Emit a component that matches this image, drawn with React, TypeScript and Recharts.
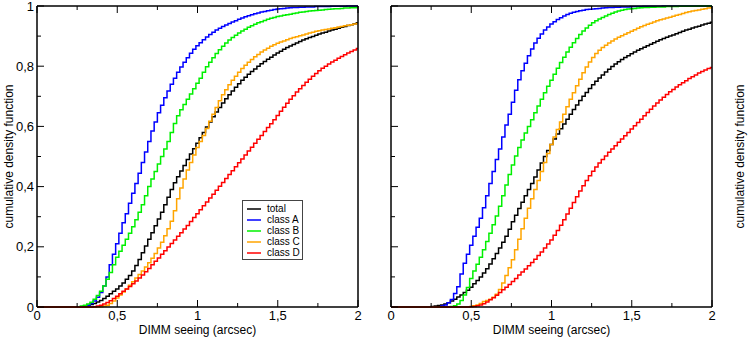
import React from 'react';
import { LineChart, Line, XAxis, YAxis, Legend, Label } from 'recharts';

// ---------- data (cumulative distributions, bins of 0.02 arcsec) ----------
const BIN = 0.02;
const X_MAX = 2;
const X_TICKS = [0, 0.25, 0.5, 0.75, 1, 1.25, 1.5, 1.75, 2];
const Y_TICKS = [0, 0.1, 0.2, 0.3, 0.4, 0.5, 0.6, 0.7, 0.8, 0.9, 1];

const SERIES = [
  { key: 'total', name: 'total', color: '#000000' },
  { key: 'A', name: 'class A', color: '#0000ff' },
  { key: 'B', name: 'class B', color: '#00f000' },
  { key: 'C', name: 'class C', color: '#ffa500' },
  { key: 'D', name: 'class D', color: '#ff0000' },
];

// left panel
const leftTotalStart = 0.28;
const leftTotal = [
  0.001, 0.003, 0.005, 0.008, 0.012, 0.017, 0.022, 0.028, 0.036, 0.044,
  0.052, 0.06, 0.07, 0.08, 0.092, 0.105, 0.12, 0.138, 0.158, 0.18,
  0.203, 0.225, 0.247, 0.27, 0.292, 0.315, 0.34, 0.365, 0.39, 0.413,
  0.433, 0.452, 0.47, 0.49, 0.508, 0.526, 0.544, 0.562, 0.58, 0.598,
  0.615, 0.632, 0.648, 0.663, 0.678, 0.692, 0.705, 0.718, 0.73, 0.742,
  0.753, 0.763, 0.773, 0.782, 0.791, 0.8, 0.808, 0.816, 0.823, 0.83,
  0.837, 0.844, 0.85, 0.856, 0.862, 0.867, 0.872, 0.877, 0.882, 0.887,
  0.891, 0.895, 0.899, 0.903, 0.907, 0.91, 0.913, 0.917, 0.92, 0.923,
  0.926, 0.929, 0.932, 0.935, 0.938, 0.941, 0.944,
];
const leftAStart = 0.28;
const leftA = [
  0.001, 0.003, 0.006, 0.012, 0.02, 0.032, 0.048, 0.07, 0.1, 0.14,
  0.175, 0.21, 0.245, 0.28, 0.31, 0.345, 0.378, 0.41, 0.444, 0.48,
  0.515, 0.55, 0.585, 0.615, 0.645, 0.67, 0.695, 0.718, 0.74, 0.76,
  0.78, 0.797, 0.813, 0.828, 0.843, 0.856, 0.868, 0.878, 0.888, 0.897,
  0.905, 0.913, 0.92, 0.926, 0.932, 0.937, 0.942, 0.947, 0.951, 0.956,
  0.96, 0.964, 0.968, 0.971, 0.974, 0.977, 0.98, 0.982, 0.984, 0.986,
  0.988, 0.99, 0.991, 0.992, 0.993, 0.994, 0.995, 0.995, 0.996, 0.996,
  0.997, 0.997, 0.997, 0.998, 0.998, 0.998, 0.998, 0.998, 0.999, 0.999,
  0.999, 0.999, 0.999, 1, 1, 1, 1,
];
const leftBStart = 0.26;
const leftB = [
  0.001, 0.003, 0.006, 0.01, 0.016, 0.026, 0.038, 0.052, 0.07, 0.092,
  0.115, 0.14, 0.165, 0.185, 0.205, 0.225, 0.245, 0.267, 0.29, 0.315,
  0.34, 0.37, 0.4, 0.425, 0.45, 0.475, 0.5, 0.525, 0.55, 0.58,
  0.61, 0.635, 0.655, 0.673, 0.69, 0.708, 0.725, 0.743, 0.76, 0.78,
  0.798, 0.813, 0.828, 0.842, 0.855, 0.866, 0.877, 0.887, 0.895, 0.903,
  0.91, 0.917, 0.923, 0.929, 0.934, 0.939, 0.944, 0.948, 0.952, 0.956,
  0.959, 0.962, 0.965, 0.967, 0.969, 0.971, 0.973, 0.975, 0.977, 0.979,
  0.98, 0.982, 0.983, 0.984, 0.985, 0.986, 0.987, 0.988, 0.989, 0.99,
  0.991, 0.991, 0.992, 0.993, 0.993, 0.994, 0.994, 0.995,
];
const leftCStart = 0.4;
const leftC = [
  0.001, 0.003, 0.006, 0.012, 0.02, 0.03, 0.04, 0.05, 0.06, 0.072,
  0.084, 0.096, 0.108, 0.12, 0.133, 0.147, 0.162, 0.178, 0.196, 0.215,
  0.237, 0.26, 0.285, 0.32, 0.36, 0.395, 0.425, 0.455, 0.48, 0.505,
  0.53, 0.55, 0.57, 0.593, 0.617, 0.64, 0.663, 0.685, 0.705, 0.722,
  0.738, 0.753, 0.767, 0.78, 0.792, 0.803, 0.813, 0.822, 0.831, 0.839,
  0.847, 0.854, 0.86, 0.866, 0.871, 0.876, 0.88, 0.884, 0.888, 0.892,
  0.895, 0.898, 0.901, 0.904, 0.907, 0.91, 0.913, 0.916, 0.918, 0.92,
  0.922, 0.924, 0.926, 0.928, 0.93, 0.932, 0.934, 0.936, 0.938, 0.94,
  0.942,
];
const leftDStart = 0.36;
const leftD = [
  0.001, 0.003, 0.006, 0.01, 0.015, 0.021, 0.028, 0.036, 0.044, 0.052,
  0.06, 0.068, 0.077, 0.086, 0.096, 0.106, 0.117, 0.128, 0.14, 0.152,
  0.163, 0.175, 0.187, 0.199, 0.211, 0.223, 0.235, 0.247, 0.259, 0.271,
  0.284, 0.297, 0.31, 0.323, 0.336, 0.349, 0.362, 0.375, 0.388, 0.401,
  0.414, 0.427, 0.44, 0.453, 0.466, 0.479, 0.492, 0.505, 0.518, 0.531,
  0.544, 0.557, 0.57, 0.583, 0.596, 0.609, 0.622, 0.636, 0.65, 0.664,
  0.677, 0.69, 0.702, 0.714, 0.725, 0.736, 0.747, 0.757, 0.767, 0.776,
  0.785, 0.793, 0.8, 0.807, 0.814, 0.82, 0.826, 0.832, 0.838, 0.844,
  0.849, 0.854, 0.859,
];

// right panel
const rightTotalStart = 0.24;
const rightTotal = [
  0.001, 0.002, 0.003, 0.005, 0.007, 0.01, 0.014, 0.02, 0.026, 0.033,
  0.04, 0.048, 0.056, 0.066, 0.077, 0.088, 0.1, 0.113, 0.127, 0.143,
  0.16, 0.178, 0.196, 0.215, 0.235, 0.258, 0.283, 0.305, 0.327, 0.348,
  0.37, 0.39, 0.41, 0.432, 0.455, 0.478, 0.5, 0.52, 0.54, 0.558,
  0.575, 0.592, 0.608, 0.624, 0.64, 0.656, 0.671, 0.686, 0.7, 0.713,
  0.726, 0.738, 0.75, 0.761, 0.771, 0.781, 0.79, 0.799, 0.807, 0.815,
  0.822, 0.829, 0.835, 0.841, 0.847, 0.853, 0.858, 0.863, 0.868, 0.873,
  0.878, 0.883, 0.888, 0.892, 0.896, 0.9, 0.904, 0.908, 0.912, 0.916,
  0.92, 0.923, 0.927, 0.93, 0.933, 0.937, 0.94, 0.943, 0.946,
];
const rightAStart = 0.3;
const rightA = [
  0.001, 0.003, 0.007, 0.014, 0.025, 0.045, 0.067, 0.11, 0.145, 0.175,
  0.205, 0.235, 0.265, 0.295, 0.33, 0.37, 0.41, 0.45, 0.49, 0.525,
  0.565, 0.605, 0.64, 0.68, 0.72, 0.755, 0.785, 0.81, 0.835, 0.857,
  0.877, 0.893, 0.907, 0.92, 0.93, 0.94, 0.948, 0.955, 0.961, 0.967,
  0.972, 0.976, 0.979, 0.982, 0.984, 0.986, 0.988, 0.989, 0.99, 0.991,
  0.992, 0.993, 0.994, 0.995, 0.995, 0.996, 0.996, 0.997, 0.997, 0.997,
  0.998, 0.998, 0.998, 0.998, 0.999, 0.999, 0.999, 0.999, 0.999, 0.999,
  1, 1, 1, 1, 1, 1, 1, 1, 1, 1,
  1, 1, 1, 1, 1, 1,
];
const rightBStart = 0.36;
const rightB = [
  0.001, 0.002, 0.004, 0.01, 0.022, 0.04, 0.065, 0.095, 0.12, 0.142,
  0.165, 0.19, 0.218, 0.245, 0.273, 0.302, 0.335, 0.37, 0.405, 0.44,
  0.472, 0.502, 0.53, 0.555, 0.578, 0.6, 0.622, 0.645, 0.668, 0.69,
  0.712, 0.733, 0.753, 0.773, 0.793, 0.812, 0.83, 0.847, 0.863, 0.878,
  0.892, 0.905, 0.917, 0.927, 0.936, 0.944, 0.951, 0.957, 0.962, 0.967,
  0.972, 0.976, 0.98, 0.983, 0.986, 0.988, 0.99, 0.991, 0.992, 0.993,
  0.994, 0.995, 0.995, 0.996, 0.996, 0.997, 0.997, 0.997, 0.998, 0.998,
  0.998, 0.998, 0.999, 0.999, 0.999, 0.999, 0.999, 0.999, 1, 1,
  1, 1, 1,
];
const rightCStart = 0.48;
const rightC = [
  0.001, 0.002, 0.004, 0.007, 0.012, 0.018, 0.022, 0.026, 0.032, 0.042,
  0.058, 0.08, 0.105, 0.13, 0.157, 0.19, 0.225, 0.26, 0.295, 0.328,
  0.36, 0.39, 0.42, 0.45, 0.48, 0.51, 0.54, 0.565, 0.59, 0.615,
  0.64, 0.665, 0.69, 0.712, 0.735, 0.757, 0.778, 0.797, 0.814, 0.829,
  0.842, 0.853, 0.862, 0.87, 0.877, 0.884, 0.89, 0.896, 0.901, 0.906,
  0.911, 0.916, 0.921, 0.926, 0.931, 0.935, 0.939, 0.943, 0.947, 0.951,
  0.954, 0.957, 0.96, 0.963, 0.966, 0.969, 0.972, 0.975, 0.978, 0.981,
  0.983, 0.985, 0.987, 0.989, 0.991, 0.993, 0.995,
];
const rightDStart = 0.5;
const rightD = [
  0.001, 0.002, 0.004, 0.007, 0.011, 0.017, 0.024, 0.031, 0.039, 0.048,
  0.057, 0.066, 0.075, 0.085, 0.095, 0.106, 0.116, 0.126, 0.137, 0.148,
  0.159, 0.171, 0.183, 0.196, 0.209, 0.223, 0.238, 0.254, 0.272, 0.29,
  0.309, 0.328, 0.347, 0.366, 0.385, 0.403, 0.42, 0.436, 0.451, 0.465,
  0.478, 0.49, 0.502, 0.514, 0.525, 0.536, 0.547, 0.558, 0.569, 0.58,
  0.591, 0.602, 0.613, 0.624, 0.635, 0.646, 0.657, 0.668, 0.678, 0.688,
  0.697, 0.706, 0.715, 0.723, 0.731, 0.738, 0.745, 0.752, 0.759, 0.765,
  0.771, 0.777, 0.782, 0.787, 0.792, 0.796,
];

const X_TITLE = 'DIMM seeing (arcsec)';
const Y_TITLE = 'cumulative density function';

// ---------- helpers ----------
type Series = { start: number; values: number[] };

function buildRows(series: Record<string, Series>) {
  const n = Math.round(X_MAX / BIN);
  const rows: any[] = [];
  for (let i = 0; i <= n; i++) {
    const row: any = { x: Number((i * BIN).toFixed(2)) };
    for (const k of Object.keys(series)) {
      const s = series[k];
      const si = Math.round(s.start / BIN);
      row[k] = i < si ? 0 : s.values[i - si];
    }
    rows.push(row);
  }
  return rows;
}

const leftRows = buildRows({
  total: { start: leftTotalStart, values: leftTotal },
  A: { start: leftAStart, values: leftA },
  B: { start: leftBStart, values: leftB },
  C: { start: leftCStart, values: leftC },
  D: { start: leftDStart, values: leftD },
});
const rightRows = buildRows({
  total: { start: rightTotalStart, values: rightTotal },
  A: { start: rightAStart, values: rightA },
  B: { start: rightBStart, values: rightB },
  C: { start: rightCStart, values: rightC },
  D: { start: rightDStart, values: rightD },
});

const FONT = '"Liberation Sans", Arial, Helvetica, sans-serif';
const fmt = (v: number) => String(v).replace('.', ',');
const isMajor = (v: number, step: number) => Math.abs(v / step - Math.round(v / step)) < 1e-6;
const MAJOR = 7;
const MINOR = 4;

const BottomTick = (p: any) => {
  const v = p.payload.value;
  const major = isMajor(v, 0.5);
  return (
    <g>
      <line x1={p.x} y1={p.y} x2={p.x} y2={p.y - (major ? MAJOR : MINOR)} stroke="#000" strokeWidth={1} />
      {major && (
        <text x={p.x} y={p.y + 12.5} textAnchor="middle" fontSize={13} fontFamily={FONT} fill="#000">
          {fmt(v)}
        </text>
      )}
    </g>
  );
};
const TopTick = (p: any) => {
  const major = isMajor(p.payload.value, 0.5);
  return <line x1={p.x} y1={p.y} x2={p.x} y2={p.y + (major ? MAJOR : MINOR)} stroke="#000" strokeWidth={1} />;
};
const makeLeftTick = (withText: boolean) => (p: any) => {
  const v = p.payload.value;
  const major = isMajor(v, 0.2);
  return (
    <g>
      <line x1={p.x} y1={p.y} x2={p.x + (major ? MAJOR : MINOR)} y2={p.y} stroke="#000" strokeWidth={1} />
      {withText && major && (
        <text x={p.x - 3} y={p.y + 4.5} textAnchor="end" fontSize={13} fontFamily={FONT} fill="#000">
          {fmt(v)}
        </text>
      )}
    </g>
  );
};
const makeRightTick = (withText: boolean) => (p: any) => {
  const v = p.payload.value;
  const major = isMajor(v, 0.2);
  return (
    <g>
      <line x1={p.x} y1={p.y} x2={p.x - (major ? MAJOR : MINOR)} y2={p.y} stroke="#000" strokeWidth={1} />
      {withText && major && (
        <text x={p.x + 3} y={p.y + 4.5} textAnchor="start" fontSize={13} fontFamily={FONT} fill="#000">
          {fmt(v)}
        </text>
      )}
    </g>
  );
};

const XTitle = (props: any) => {
  const vb = props.viewBox;
  return (
    <text x={vb.x + vb.width / 2} y={vb.y + 27} textAnchor="middle" fontSize={12} fontFamily={FONT} fill="#000">
      {X_TITLE}
    </text>
  );
};
const makeYTitle = (side: 'left' | 'right') => (props: any) => {
  const vb = props.viewBox;
  const cy = vb.y + vb.height / 2;
  const cx = side === 'left' ? vb.x + vb.width - 24 : vb.x + 32;
  return (
    <text x={cx} y={cy} transform={`rotate(-90 ${cx} ${cy})`} textAnchor="middle" fontSize={12} fontFamily={FONT} fill="#000">
      {Y_TITLE}
    </text>
  );
};

const LegendBox = () => (
  <div
    style={{
      boxSizing: 'border-box',
      width: 61,
      height: 60,
      border: '1px solid #444',
      background: '#fff',
      padding: '3px 0 0 4px',
      fontFamily: FONT,
      fontSize: 10,
      color: '#000',
    }}
  >
    {SERIES.map((s) => (
      <div key={s.key} style={{ height: 10.8, display: 'flex', alignItems: 'center', whiteSpace: 'nowrap' }}>
        <svg width={14} height={4} style={{ display: 'block' }}>
          <line x1={0} y1={2} x2={14} y2={2} stroke={s.color} strokeWidth={1.5} />
        </svg>
        <span style={{ marginLeft: 6, lineHeight: '10px' }}>{s.name}</span>
      </div>
    ))}
  </div>
);

const AXIS_LINE = { stroke: '#000', strokeWidth: 1.5 };

function Panel({ rows, side, width, margin, legend }: any) {
  return (
    <LineChart width={width} height={338} data={rows} margin={margin}>
      <XAxis
        dataKey="x"
        type="number"
        domain={[0, X_MAX]}
        ticks={X_TICKS}
        interval={0}
        height={1}
        tickSize={0}
        tickMargin={0}
        tickLine={false}
        axisLine={AXIS_LINE}
        tick={BottomTick}
      >
        <Label content={XTitle} />
      </XAxis>
      <XAxis
        xAxisId="top"
        dataKey="x"
        type="number"
        orientation="top"
        domain={[0, X_MAX]}
        ticks={X_TICKS}
        interval={0}
        height={1}
        tickSize={0}
        tickMargin={0}
        tickLine={false}
        axisLine={AXIS_LINE}
        tick={TopTick}
      />
      <YAxis
        type="number"
        domain={[0, 1]}
        ticks={Y_TICKS}
        interval={0}
        width={1}
        tickSize={0}
        tickMargin={0}
        tickLine={false}
        axisLine={AXIS_LINE}
        tick={makeLeftTick(side === 'left')}
      >
        {side === 'left' && <Label content={makeYTitle('left')} />}
      </YAxis>
      <YAxis
        yAxisId="right"
        orientation="right"
        type="number"
        domain={[0, 1]}
        ticks={Y_TICKS}
        interval={0}
        width={1}
        tickSize={0}
        tickMargin={0}
        tickLine={false}
        axisLine={AXIS_LINE}
        tick={makeRightTick(side === 'right')}
      >
        {side === 'right' && <Label content={makeYTitle('right')} />}
      </YAxis>
      {SERIES.map((s) => (
        <Line
          key={s.key}
          dataKey={s.key}
          name={s.name}
          type="step"
          stroke={s.color}
          strokeWidth={1.5}
          dot={false}
          activeDot={false}
          isAnimationActive={false}
        />
      ))}
      {legend && (
        <Legend
          layout="vertical"
          align="center"
          verticalAlign="middle"
          content={LegendBox}
          wrapperStyle={{ left: 242, top: 200, width: 61, height: 60 }}
        />
      )}
    </LineChart>
  );
}

export default function App() {
  return (
    <div style={{ position: 'absolute', left: 0, top: 0, width: 749, height: 338, background: '#fff', fontFamily: FONT }}>
      <div style={{ position: 'absolute', left: 0, top: 0 }}>
        <Panel rows={leftRows} side="left" width={375} margin={{ top: 5, right: 16, bottom: 30, left: 36 }} legend />
      </div>
      <div style={{ position: 'absolute', left: 375, top: 0 }}>
        <Panel rows={rightRows} side="right" width={374} margin={{ top: 5, right: 36, bottom: 30, left: 15 }} legend={false} />
      </div>
    </div>
  );
}
